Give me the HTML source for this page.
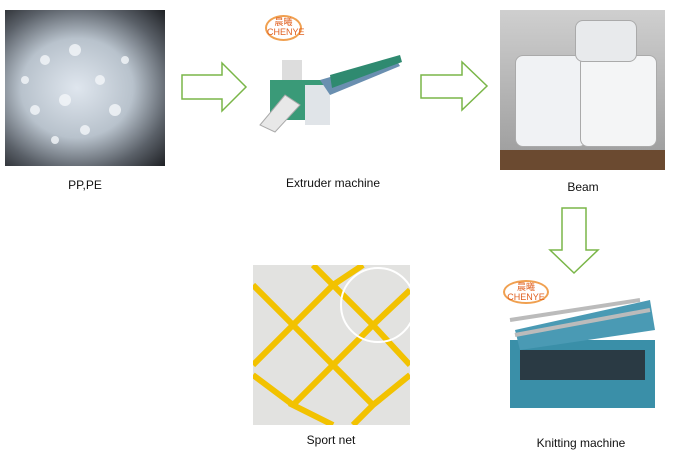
<!DOCTYPE html>
<html><head><meta charset="utf-8"><style>
body{margin:0;width:680px;height:460px;background:#fff;position:relative;overflow:hidden;font-family:"Liberation Sans","Noto Sans CJK SC",sans-serif;}
.a{position:absolute}
.lbl{position:absolute;font-size:12px;color:#111;white-space:nowrap;transform:translateX(-50%)}
.logo{position:absolute;border:2px solid #f0a050;border-radius:50%;color:#e06020;font-size:9px;text-align:center;line-height:10px;background:#fff}
</style></head><body>
<!-- PP,PE -->
<div class="a" style="left:5px;top:10px;width:160px;height:156px;background:radial-gradient(ellipse at 45% 50%,#dfe6ee 0%,#b8c2cc 45%,#5a6068 75%,#1e2024 100%)"></div>
<svg class="a" style="left:5px;top:10px" width="160" height="156">
<g fill="#f4f7fa" opacity=".8">
<circle cx="40" cy="50" r="5"/><circle cx="70" cy="40" r="6"/><circle cx="95" cy="70" r="5"/><circle cx="60" cy="90" r="6"/><circle cx="30" cy="100" r="5"/><circle cx="110" cy="100" r="6"/><circle cx="80" cy="120" r="5"/><circle cx="50" cy="130" r="4"/><circle cx="120" cy="50" r="4"/><circle cx="20" cy="70" r="4"/></g></svg>
<div class="lbl" style="left:85px;top:178px">PP,PE</div>

<!-- arrow 1 -->
<svg class="a" style="left:0;top:0" width="680" height="460">
<polygon points="182,75 222,75 222,63 246,87 222,111 222,99 182,99" fill="#fff" stroke="#7ab648" stroke-width="1.5"/>
<polygon points="421,75 462,75 462,62 487,86 462,110 462,98 421,98" fill="#fff" stroke="#7ab648" stroke-width="1.5"/>
<polygon points="562,208 586,208 586,250 598,250 574,273 550,250 562,250" fill="#fff" stroke="#7ab648" stroke-width="1.5"/>
<!-- extruder -->
<rect x="282" y="60" width="20" height="20" fill="#ddd"/>
<rect x="270" y="80" width="60" height="40" fill="#3a9a78"/>
<polygon points="260,125 285,95 300,105 275,132" fill="#e8e8e8" stroke="#aaa"/>
<rect x="305" y="85" width="25" height="40" fill="#e0e4e8"/>
<polygon points="320,80 395,58 400,66 330,95" fill="#6a8fb0"/>
<polygon points="330,75 400,55 402,62 332,88" fill="#2f8a70"/>
<!-- knitting -->
<rect x="510" y="340" width="145" height="68" fill="#3a8fa8"/>
<rect x="520" y="350" width="125" height="30" fill="#2a3a44"/>
<polygon points="515,330 650,300 655,330 520,350" fill="#4a9ab4"/>
<line x1="510" y1="320" x2="640" y2="300" stroke="#bbb" stroke-width="4"/>
<line x1="515" y1="335" x2="650" y2="310" stroke="#bbb" stroke-width="4"/>
</svg>
<div class="logo" style="left:265px;top:15px;width:33px;height:22px">晨曦<br>CHENYE</div>
<div class="lbl" style="left:333px;top:176px">Extruder machine</div>

<!-- Beam -->
<div class="a" style="left:500px;top:10px;width:165px;height:160px;background:linear-gradient(#cfcfcf,#9a9a9a)"></div>
<div class="a" style="left:515px;top:55px;width:70px;height:90px;border-radius:8px;background:#f0f2f4;border:1px solid #aaa"></div>
<div class="a" style="left:580px;top:55px;width:75px;height:90px;border-radius:8px;background:#f4f5f6;border:1px solid #aaa"></div>
<div class="a" style="left:575px;top:20px;width:60px;height:40px;border-radius:8px;background:#e8eaec;border:1px solid #aaa"></div>
<div class="a" style="left:500px;top:150px;width:165px;height:20px;background:#6b4a30"></div>
<div class="lbl" style="left:583px;top:180px">Beam</div>

<div class="logo" style="left:503px;top:280px;width:42px;height:20px">晨曦<br>CHENYE</div>
<div class="lbl" style="left:581px;top:436px">Knitting machine</div>

<!-- sport net -->
<div class="a" style="left:253px;top:265px;width:157px;height:160px;background:#e2e2e0;overflow:hidden">
<svg width="157" height="160"><g fill="none" stroke="#f2c200" stroke-width="6">
<path d="M0,20 L40,60 L0,100 M40,60 L80,20 L120,60 L80,100 L40,60 M120,60 L157,25 M120,60 L157,100 M80,100 L40,140 L80,160 M80,100 L120,140 L157,110 M40,140 L0,110 M120,140 L100,160 M80,20 L60,0 M80,20 L110,0"/></g>
<circle cx="125" cy="40" r="37" fill="none" stroke="#fff" stroke-width="2"/></svg></div>
<div class="lbl" style="left:331px;top:433px">Sport net</div>
</body></html>
